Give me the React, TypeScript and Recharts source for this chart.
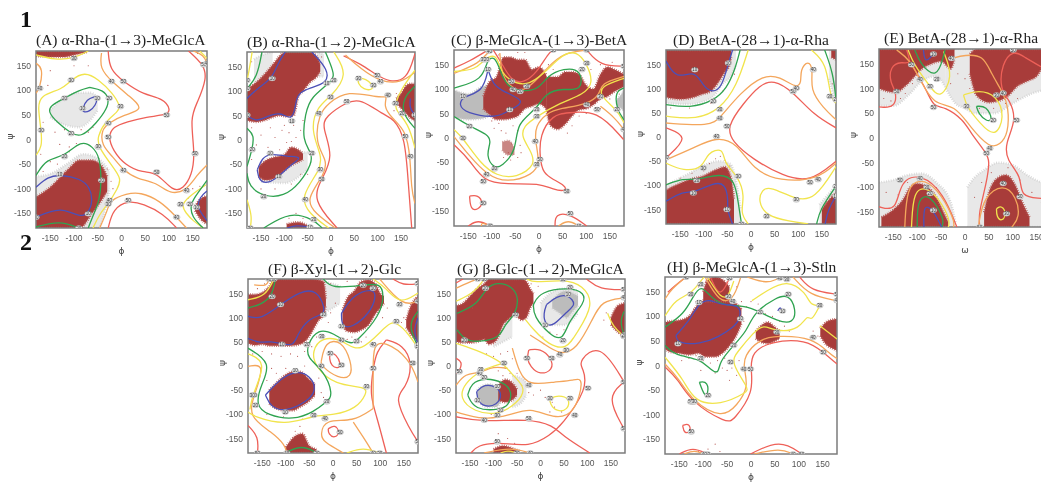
import React from "react";
import { ComposedChart, Area, Scatter, XAxis, YAxis, ReferenceArea } from "recharts";

type Pt = [number, number];
type Contour = [number, Pt[]];
type Band = [number, number, number][];

const LEVEL_COLORS: Record<number, string> = { 10: "#4b50b8", 20: "#2fa350", 30: "#f1e44c", 40: "#f4a65c", 50: "#ee6058" };
const axisTicks = [-150, -100, -50, 0, 50, 100, 150];

// ---------- Panel A
const contoursA: Contour[] = [
  [50, [[-28,180],[-25,142],[4,118],[46,91],[88,84],[104,60],[95,50],[53,46],[11,36],[-18,26],[-28,5],[-18,-22],[7,-52],[46,-68],[74,-66],[109,-107],[130,-100],[148,-73],[155,-29],[144,45],[160,75],[180,125],[173,152],[141,180]]],
  [50, [[-28,-180],[-18,-141],[14,-124],[46,-131],[88,-151],[116,-180]]],
  [40, [[-42,176],[-46,145],[-21,118],[18,87],[49,61],[4,50],[-28,33],[-42,19],[-42,-12],[-18,-35],[4,-63],[32,-80],[74,-87],[102,-112],[137,-104],[158,-73],[180,-52]]],
  [40, [[-46,-180],[-28,-141],[-25,-124],[11,-110],[39,-107],[81,-124],[116,-158],[137,-180]]],
  [40, [[-180,155],[-165,145],[-172,104],[-180,94]]],
  [40, [[151,180],[173,172],[180,155]]],
  [30, [[-180,-32],[-167,-15],[-169,19],[-176,64],[-172,90],[-124,102],[-106,121],[-78,138],[-49,123],[-18,94],[-2,67],[-7,57],[-35,36],[-51,5],[-49,-15],[-18,-56],[0,-80],[-8,-100],[-28,-131],[-46,-151],[-60,-180]]],
  [30, [[-180,172],[-140,162],[-100,165],[-70,180]]],
  [30, [[178,-92],[150,-110],[124,-132],[136,-150],[150,-165],[172,-180]]],
  [30, [[165,180],[180,165]]],
  [20, [[-67,106],[-39,101],[-26,84],[-30,63],[-53,33],[-85,4],[-106,12],[-137,36],[-155,57],[-148,70],[-120,84],[-88,101],[-67,106]]],
  [20, [[-180,-73],[-158,-39],[-120,-35],[-85,-1],[-60,-15],[-46,-35],[-42,-83],[-46,-124],[-62,-160],[-70,-180]]],
  [20, [[-180,-178],[-130,-165],[-90,-180]]],
  [20, [[180,-83],[162,-107],[144,-131],[148,-158],[172,-180]]],
  [10, [[-56,87],[-73,82],[-82,63],[-81,55],[-67,57],[-54,70],[-51,84],[-56,87]]],
  [10, [[-180,-97],[-155,-76],[-130,-71],[-85,-80],[-67,-97],[-60,-124],[-70,-151],[-88,-158],[-120,-141],[-151,-146],[-180,-158]]],
  [10, [[180,-105],[165,-117],[158,-138],[180,-165]]],
];
const redsA: Band[] = [
  [[-180,-180,-117],[-150,-180,-97],[-115,-180,-63],[-88,-180,-42],[-63,-152,-42],[-45,-128,-50],[-30,-105,-75]],
  [[-180,170,180],[-150,168,180],[-120,168,180],[-100,172,180],[-72,178,180]],
  [[155,-145,-135],[165,-160,-122],[180,-172,-115]],
];
const graysA: Band[] = [
  [[-180,-180,-75],[-150,-180,-70],[-115,-180,-50],[-80,-180,-30],[-50,-180,-38],[-25,-100,-65]],
  [[-150,45,60],[-120,30,85],[-90,25,95],[-65,40,95],[-50,60,85]],
];
const dotsA: Pt[] = [[-170,-30],[-150,-45],[-130,-10],[-110,-15],[-95,-8],[-165,35],[-140,15],[-120,20],[-85,20],[-70,15],[-60,25],[-155,110],[-150,140],[-100,150],[-70,150],[-30,-60],[-22,-85],[-18,-100],[-25,-120],[-110,-25],[140,-120],[150,-100],[165,-95],[160,175],[-165,-65],[-135,-50]];

// ---------- Panel B
const contoursB: Contour[] = [
  [50, [[27,172],[63,156],[99,132],[124,119],[163,122],[180,177]]],
  [50, [[13,-180],[-41,-122],[-20,-80],[6,-34],[-19,27],[-12,48],[34,78],[63,85],[113,51],[134,44],[159,7],[166,-95],[173,-180]]],
  [40, [[31,174],[63,146],[106,119],[149,116],[180,139]]],
  [40, [[9,-180],[-34,-150],[-55,-122],[-12,-68],[-9,-41],[-34,-7],[-26,54],[-5,75],[34,102],[106,85],[122,92],[112,70],[130,45],[160,20],[170,-34],[172,-100],[180,-130]]],
  [30, [[6,180],[38,133],[-1,88],[-30,68],[-44,20],[-19,-34],[-23,-61],[-66,-116],[-48,-150],[-5,-180]]],
  [30, [[59,126],[74,126],[91,112],[88,102],[70,103],[57,116],[59,126]]],
  [30, [[-169,180],[-176,139],[-180,122]]],
  [30, [[-180,-122],[-169,-156],[-173,-180]]],
  [30, [[180,143],[149,102],[138,75],[138,61],[166,34],[180,-17]]],
  [20, [[-148,180],[-158,129],[-180,105]]],
  [20, [[-12,180],[6,139],[6,122],[-44,88],[-55,54],[-62,0],[-41,-27],[-41,-48],[-66,-88],[-101,-116],[-144,-116],[-176,-95],[-180,-68]]],
  [20, [[-180,24],[-164,10],[-169,-20],[-180,-54]]],
  [20, [[-144,-180],[-87,-146],[-37,-163],[-19,-180]]],
  [20, [[180,110],[156,88],[152,54],[180,24]]],
  [10, [[-180,85],[-158,105],[-126,126],[-116,153],[-98,180]]],
  [10, [[-41,180],[-5,143],[-9,116],[-44,107],[-73,95],[-76,68],[-84,39],[-109,58],[-137,48],[-162,37],[-180,51]]],
  [10, [[-158,-61],[-148,-37],[-130,-27],[-94,-34],[-59,-34],[-87,-51],[-112,-75],[-137,-90],[-155,-82],[-158,-61]]],
  [10, [[-94,-180],[-75,-174],[-45,-178]]],
  [10, [[170,85],[168,65],[180,51]]],
];
const redsB: Band[] = [
  [[-180,40,105],[-160,37,118],[-140,41,137],[-120,48,160],[-110,50,172],[-95,48,180],[-80,50,180],[-70,88,180],[-60,100,180],[-45,118,180],[-30,130,170],[-23,140,155]],
  [[-155,-75,-55],[-140,-82,-42],[-120,-78,-35],[-100,-63,-30],[-85,-52,-15],[-70,-45,-20],[-60,-40,-28]],
  [[140,75,85],[150,65,95],[160,55,110],[170,45,115],[180,40,115]],
  [[-95,-180,-172],[-70,-180,-168],[-50,-180,-175]],
];
const graysB: Band[] = [
  [[-165,105,165],[-145,95,175],[-125,130,180]],
  [[-150,-85,-50],[-100,-88,-30],[-50,-60,-25]],
  [[-30,130,180],[-15,130,175]],
];
const dotsB: Pt[] = [[-170,25],[-150,10],[-130,25],[-120,5],[-105,20],[-95,-5],[-85,-3],[-75,5],[-65,20],[-60,40],[-160,-10],[-135,-15],[-110,-20],[-170,-40],[-150,-100],[-120,-100],[-85,-90],[-65,-70],[-50,-70],[-90,-160],[-75,-150],[-60,-160],[-170,160],[-20,170],[135,60],[140,95],[-100,30],[-90,15],[-80,30]];

// ---------- Panel C
const contoursC: Contour[] = [
  [50, [[-180,143],[-147,157],[-108,180]]],
  [50, [[-97,180],[-79,153],[-58,116],[-33,112],[-5,133],[20,174],[30,180]]],
  [50, [[101,180],[130,147],[180,147]]],
  [50, [[-180,-14],[-147,-44],[-118,-89],[-69,-95],[2,-92],[30,-106],[59,-109],[55,-97],[30,-85],[9,-72],[2,-44],[1,7],[30,48],[59,51],[123,58],[179,-3]]],
  [50, [[-147,-119],[-129,-116],[-118,-133],[-129,-147],[-145,-147],[-147,-119]]],
  [50, [[-150,-180],[-129,-167],[-104,-180]]],
  [50, [[34,-180],[34,-155],[66,-155],[101,-180]]],
  [40, [[-180,132],[-126,153],[-105,178]]],
  [40, [[-83,174],[-79,126],[-55,99],[-26,95],[20,147],[52,174],[101,180]]],
  [40, [[-180,3],[-147,-37],[-111,-75],[-69,-92],[-12,-75],[2,-51],[-8,-7],[-8,24],[16,51],[45,61],[101,68],[130,89],[130,112],[180,126]]],
  [40, [[130,65],[160,42],[180,17]]],
  [40, [[-122,-180],[-122,-172],[-104,-180]]],
  [40, [[41,-180],[62,-167],[84,-180]]],
  [30, [[-180,136],[-133,140],[-118,160],[-90,174],[-83,140],[-62,116],[-26,106],[9,130],[52,174],[80,177],[101,153],[116,112],[94,89],[45,72],[-5,44],[-33,24],[-37,3],[-19,-24],[-5,-55],[-48,-82],[-90,-78],[-125,-51],[-161,0],[-180,17]]],
  [30, [[180,122],[130,106],[130,85],[165,58],[180,31]]],
  [20, [[-180,102],[-118,119],[-111,160],[-94,168],[-83,140],[-69,106],[-40,95],[0,99],[16,126],[52,143],[91,140],[91,95],[52,102],[13,92],[-5,58],[-48,31],[-48,-27],[-79,-58],[-94,-63],[-113,-37],[-101,-7],[-108,7],[-147,24],[-180,44]]],
  [20, [[180,102],[161,95],[165,58],[180,37]]],
  [10, [[-108,140],[-118,95],[-161,85],[-170,68],[-156,51],[-87,40],[-62,58],[-25,75],[-76,95],[-97,109],[-108,140]]],
];
const redsC: Band[] = [
  [[-118,60,85],[-105,48,115],[-90,38,125],[-75,38,165],[-60,40,165],[-45,45,160],[-30,60,160],[-15,65,140],[0,70,145],[15,60,130]],
  [[15,60,125],[25,25,125],[40,18,125],[55,28,135],[70,45,135],[85,58,130],[100,60,108],[115,68,100],[130,80,130],[145,85,145],[160,95,140],[180,105,130]],
];
const palerRedsC: Band[] = [
  [[-78,-25,-8],[-65,-35,-5],[-52,-35,-20]],
];
const graysC: Band[] = [
  [[-180,42,98],[-150,38,90],[-120,40,105],[-105,45,108]],
  [[165,65,80],[175,60,90],[180,55,100]],
];
const dotsC: Pt[] = [[-85,30],[-80,15],[-70,10],[-55,25],[-45,15],[-75,-40],[-60,-45],[-45,-40],[-40,-15],[-95,20],[-100,35],[60,10],[70,25],[85,45],[100,50],[120,55],[130,60],[150,80],[170,90],[-85,170],[-45,175],[-30,175],[20,150],[30,140],[110,140],[130,150],[155,155],[-65,-30],[-58,-12],[-38,-30]];

// ---------- Panel D
const contoursD: Contour[] = [
  [50, [[-180,19],[-129,1],[-180,-43]]],
  [50, [[180,19],[132,46],[89,94],[47,119],[19,108],[-16,70],[-51,22],[-41,-9],[5,-47],[68,-81],[125,-94],[180,-50]]],
  [40, [[-180,29],[-87,22],[-66,39],[-23,91],[26,129],[61,125],[96,101],[107,112],[104,139],[121,160],[132,139],[125,98],[153,60],[180,36]]],
  [40, [[-180,-47],[-122,-23],[-73,1],[-30,-12],[5,-68],[61,-92],[142,-88],[180,-54]]],
  [30, [[-180,43],[-115,36],[-66,57],[-30,105],[-6,180]]],
  [30, [[-180,-54],[-143,-71],[-101,-64],[-94,-33],[-58,-21],[-58,-54],[-27,-81],[-13,-123],[-23,-157],[-6,-180]]],
  [30, [[121,-180],[82,-174],[33,-164],[15,-133],[23,-109],[40,-102],[96,-130],[135,-130],[180,-61]]],
  [30, [[128,180],[160,153],[167,84],[180,70]]],
  [20, [[-180,67],[-129,60],[-80,74],[-51,101],[-34,139],[-23,180]]],
  [20, [[-180,-99],[-143,-85],[-115,-90],[-66,-75],[-34,-88],[-27,-137],[-20,-180]]],
  [20, [[139,-180],[146,-150],[180,-102]]],
  [20, [[156,180],[174,132],[180,77]]],
  [10, [[-180,157],[-158,119],[-119,139],[-101,105],[-83,92],[-62,101],[-48,153],[-39,180]]],
  [10, [[-180,-133],[-143,-112],[-122,-116],[-80,-95],[-55,-95],[-48,-130],[-51,-150],[-39,-180]]],
  [10, [[157,-180],[163,-150],[180,-122]]],
];
const redsD: Band[] = [
  [[-180,82,180],[-150,78,180],[-130,80,180],[-105,88,180],[-85,95,180],[-70,112,180],[-55,135,180],[-45,150,180],[-42,165,180]],
  [[-180,-180,-110],[-160,-180,-100],[-130,-180,-88],[-100,-180,-80],[-75,-180,-68],[-55,-180,-62],[-42,-180,-85],[-36,-180,-130]],
  [[150,-180,-150],[165,-180,-130],[180,-180,-115]],
  [[170,165,180],[180,160,180]],
];
const graysD: Band[] = [
  [[-180,70,180],[-130,68,180],[-85,80,180],[-60,110,180],[-40,130,180],[-32,150,180]],
  [[-180,-180,-100],[-130,-180,-75],[-90,-180,-55],[-70,-180,-50],[-45,-180,-55],[-30,-180,-100],[-22,-180,-150]],
  [[145,-180,-140],[180,-180,-100]],
  [[165,120,180],[180,70,180]],
];
const dotsD: Pt[] = [[-75,-45],[-65,-40],[-55,-48],[-45,-60],[-88,-55],[-100,-70],[-125,-75],[-150,-85],[-170,60],[-130,60],[-85,70],[-60,95],[-35,130],[170,-120],[160,-135],[172,110]];

// ---------- Panel E
const contoursE: Contour[] = [
  [50, [[-180,63],[-147,60],[-143,94],[-157,111],[-157,145],[-133,155],[-112,148],[-122,178]]],
  [50, [[-112,148],[-80,97],[-66,62],[-42,64],[-3,36],[10,13],[45,-31],[52,-45],[45,-92],[28,-153],[31,-180]]],
  [50, [[170,138],[122,165],[101,178],[77,151],[73,97],[94,77],[108,36],[84,-11],[87,-45],[119,-78],[115,-119],[160,-122]]],
  [50, [[-180,-139],[-143,-149],[-136,-85],[-91,-72],[-45,-112],[-17,-180]]],
  [40, [[-143,178],[-115,158],[-94,118],[-66,67],[-21,67],[10,23],[52,-21],[73,-14],[91,9],[91,64],[80,91],[55,130],[38,168],[0,168],[-28,161]]],
  [40, [[-126,-180],[-122,-99],[-94,-82],[-59,-99],[-21,-166],[-24,-180]]],
  [40, [[28,-180],[38,-119],[80,-92],[108,-119],[115,-160],[98,-180]]],
  [30, [[-119,178],[-108,150],[-73,104],[-52,77],[-24,124],[-45,175]]],
  [30, [[-3,87],[28,97],[66,87],[84,43],[63,-1],[31,30],[3,64],[-3,87]]],
  [30, [[-112,-180],[-108,-105],[-80,-99],[-52,-126],[-31,-166],[-35,-180]]],
  [30, [[66,-143],[77,-136],[87,-153],[77,-170],[66,-159],[66,-143]]],
  [20, [[-105,178],[-94,150],[-59,119],[-45,165],[-42,178]]],
  [20, [[24,64],[45,65],[59,36],[45,33],[28,50],[24,64]]],
  [20, [[-100,-180],[-100,-122],[-73,-112],[-42,-166],[-49,-180]]],
  [10, [[-87,178],[-84,150],[-66,170]]],
  [10, [[-86,-180],[-87,-132],[-66,-146],[-49,-180]]],
];
const redsE: Band[] = [
  [[-180,100,180],[-165,95,180],[-145,92,180],[-125,105,180],[-105,125,180],[-90,140,180],[-70,150,180],[-50,155,180],[-30,140,180],[-22,160,180]],
  [[10,130,170],[25,85,180],[50,72,180],[70,75,180],[90,85,180],[110,105,180],[130,115,180],[150,125,180],[165,145,180],[180,150,180]],
  [[-175,-180,-160],[-150,-180,-145],[-130,-180,-125],[-115,-180,-100],[-100,-180,-92],[-80,-180,-98],[-60,-180,-120],[-45,-180,-150],[-35,-180,-170]],
  [[40,-180,-150],[50,-180,-110],[70,-180,-80],[85,-180,-75],[105,-180,-95],[120,-180,-130],[135,-180,-160]],
];
const graysE: Band[] = [
  [[-180,65,180],[-150,65,180],[-120,85,180],[-90,115,180],[-60,125,180],[-40,100,180]],
  [[-40,100,180],[-20,70,180],[0,60,180],[20,50,180],[60,50,180],[100,70,180],[140,90,180],[180,100,180]],
  [[5,-180,-100],[20,-180,-80],[40,-180,-65],[70,-180,-50],[100,-180,-55],[130,-180,-75],[160,-180,-90],[180,-180,-95]],
  [[-180,-180,-90],[-150,-180,-85],[-120,-180,-75],[-90,-180,-72],[-60,-180,-90],[-30,-180,-130],[-20,-180,-170]],
];
const dotsE: Pt[] = [[-170,80],[-155,75],[-135,80],[-125,90],[-110,110],[-95,125],[-30,110],[-15,130],[0,120],[10,100],[30,60],[60,60],[85,70],[110,80],[-165,-110],[-140,-115],[-120,-90],[-95,-80],[-60,-100],[-40,-130],[20,-120],[35,-90],[55,-70],[90,-60],[115,-85],[140,-110],[160,-130]];

// ---------- Panel F
const contoursF: Contour[] = [
  [50, [[-6,26],[6,26],[18,2],[11,-5],[-3,-1],[-8,16],[-6,26]]],
  [50, [[-10,-130],[4,-121],[15,-137],[4,-150],[-10,-141],[-10,-130]]],
  [50, [[113,54],[92,30],[85,-5],[78,-60],[92,-102],[113,-180]]],
  [50, [[113,54],[148,44],[169,6],[155,-46],[129,-64],[162,-130],[180,-157]]],
  [50, [[-180,-123],[-157,-147],[-160,-180]]],
  [50, [[127,180],[148,167],[180,170]]],
  [40, [[-25,9],[-17,51],[18,54],[39,9],[40,-24],[11,-26],[-25,0],[-25,9]]],
  [40, [[85,-88],[85,-5],[85,44],[109,52],[162,16],[180,-33]]],
  [40, [[85,-88],[43,-116],[-17,-109],[-27,-143],[-20,-157],[22,-180]]],
  [40, [[43,-116],[64,-147],[85,-180]]],
  [40, [[-180,-1],[-143,6],[-167,-60],[-180,-105],[-129,-137],[-101,-164],[-98,-180]]],
  [40, [[99,180],[148,123],[180,134]]],
  [40, [[-167,168],[-139,165],[-136,180]]],
  [30, [[180,37],[162,64],[134,92],[116,89],[57,23],[22,54],[-24,61],[-45,30],[-38,-1],[4,-40],[71,-43],[71,-57],[50,-88],[1,-102],[-41,-102],[-101,-123],[-167,-105],[-180,-95]]],
  [30, [[-180,25],[-139,9],[-171,-60],[-176,-90]]],
  [30, [[-180,137],[-143,144],[-125,180]]],
  [30, [[85,180],[113,161],[141,127],[180,151]]],
  [30, [[29,-180],[64,-168],[99,-180]]],
  [20, [[-180,120],[-153,127],[-129,144],[-122,180]]],
  [20, [[-20,180],[-3,160],[64,167],[99,172],[109,148],[99,103],[50,51],[36,44],[1,68],[-31,78],[-55,44],[-55,16],[-20,-8],[1,-60],[-13,-74],[-41,-95],[-83,-112],[-139,-102],[-164,-81],[-153,-40],[-129,6],[-180,37]]],
  [20, [[-101,-180],[-66,-163],[-34,-180]]],
  [20, [[180,113],[158,85],[180,40]]],
  [10, [[-180,103],[-153,96],[-111,127],[-69,155],[-34,158],[-17,120],[-20,106],[-52,99],[-76,64],[-83,42],[-108,45],[-132,52],[-153,47],[-180,57]]],
  [10, [[18,109],[43,148],[85,161],[92,144],[78,109],[39,78],[18,82],[18,109]]],
  [10, [[-143,-60],[-111,-26],[-80,-10],[-48,-19],[-34,-50],[-55,-74],[-101,-95],[-132,-85],[-143,-60]]],
  [10, [[180,100],[170,75],[180,44]]],
];
const redsF: Band[] = [
  [[-180,47,148],[-165,43,148],[-150,45,152],[-135,42,165],[-125,42,180],[-110,42,180],[-90,42,180],[-70,45,180],[-58,52,180],[-45,70,180],[-30,95,178],[-20,105,175],[-15,125,140]],
  [[20,85,115],[30,72,140],[45,70,155],[60,75,175],[75,85,178],[90,108,170],[100,120,150],[108,130,145]],
  [[-135,-78,-50],[-120,-88,-35],[-100,-92,-18],[-85,-92,-12],[-70,-85,-12],[-50,-72,-28],[-38,-60,-38]],
  [[-100,-180,-168],[-80,-180,-145],[-65,-180,-140],[-50,-180,-165],[-35,-180,-172]],
  [[155,80,95],[165,65,125],[175,55,140],[180,50,145]],
];
const graysF: Band[] = [
  [[-20,110,175],[0,120,170],[15,130,165]],
];
const dotsF: Pt[] = [[-170,25],[-150,30],[-130,25],[-110,20],[-90,25],[-75,20],[-60,30],[-45,40],[-35,60],[-10,90],[-5,110],[5,130],[10,165],[-5,170],[30,175],[45,165],[30,55],[40,60],[60,50],[70,60],[105,100],[115,120],[150,100],[145,90],[-140,-30],[-130,-5],[-120,-15],[-100,-5],[-60,0],[-30,-25],[-25,-55],[-20,-65],[-140,-100],[-105,-105],[-65,-110],[-80,-135],[-70,-125],[-160,160],[-145,170]];

// ---------- Panel G
const contoursG: Contour[] = [
  [50, [[-25,33],[-1,37],[24,16],[27,-8],[-1,-19],[-22,-1],[-29,16],[-25,33]]],
  [50, [[-180,-105],[-124,-116],[-25,-109],[27,-123],[45,-143],[105,-180]]],
  [50, [[-148,-180],[-134,-164],[-92,-157],[-22,-168],[20,-143],[45,-123],[101,-46],[91,-5],[80,9],[126,51],[178,-33]]],
  [50, [[178,-33],[140,-64],[178,-130]]],
  [50, [[98,180],[126,158],[178,158]]],
  [50, [[-180,16],[-166,9],[-173,-12],[-180,-15]]],
  [50, [[-180,172],[-165,180]]],
  [40, [[-22,64],[6,47],[41,23],[77,33],[112,99],[130,135],[178,141]]],
  [40, [[-60,37],[-45,-15],[-25,-40],[30,-33],[70,-30],[94,-22],[73,-102],[27,-109],[-22,-85],[-64,-102],[-120,-112],[-180,-95]]],
  [40, [[-180,-40],[-160,-15],[-130,-15],[-100,0],[-70,-5]]],
  [40, [[-180,161],[-155,172],[-134,180]]],
  [40, [[-120,-180],[-64,-168],[-22,-180]]],
  [30, [[-180,134],[-141,151],[-120,180]]],
  [30, [[-29,180],[-15,172],[48,179],[91,168],[115,127],[77,68],[55,33],[17,44],[-15,75],[-32,96]]],
  [30, [[-180,47],[-127,30],[-78,6],[-60,-19],[-29,-46],[-50,-78],[-92,-102],[-141,-95],[-173,-67],[-162,-36],[-127,-8],[-78,6]]],
  [30, [[20,-67],[38,-60],[63,-67],[59,-91],[34,-95],[20,-78],[20,-67]]],
  [30, [[143,109],[154,82],[178,61]]],
  [30, [[-85,-180],[-70,-174],[-50,-180]]],
  [20, [[-178,109],[-134,127],[-117,161],[-92,174],[-60,165],[-46,141],[-53,106],[-78,85],[-85,58],[-134,49],[-162,54],[-178,75]]],
  [20, [[-15,127],[-1,154],[63,163],[94,151],[94,130],[59,92],[48,52],[20,64],[-15,103],[-15,127]]],
  [20, [[-155,-60],[-148,-36],[-120,-24],[-78,-33],[-60,-53],[-67,-81],[-85,-91],[-141,-91],[-155,-60]]],
  [20, [[178,113],[169,92],[178,64]]],
  [10, [[13,127],[34,144],[59,148],[77,127],[56,113],[27,82],[10,85],[6,109],[13,127]]],
  [10, [[-136,-53],[-120,-37],[-92,-43],[-82,-60],[-92,-81],[-120,-85],[-134,-71],[-136,-53]]],
];
const redsG: Band[] = [
  [[-180,50,125],[-165,48,130],[-150,48,145],[-135,50,160],[-120,55,170],[-110,45,180],[-100,48,180],[-90,60,180],[-80,85,180],[-70,95,180],[-55,105,180],[-40,95,180],[-30,100,175],[-22,120,160],[-15,130,150]],
  [[-90,-70,-40],[-75,-75,-28],[-60,-70,-35],[-50,-60,-48]],
  [[150,85,100],[165,70,125],[180,60,130]],
  [[-100,-180,-172],[-80,-180,-165],[-60,-180,-170],[-45,-180,-176]],
];
const graysG: Band[] = [
  [[-135,-65,-50],[-125,-80,-42],[-110,-85,-38],[-95,-85,-42],[-85,-75,-48]],
  [[25,120,135],[40,110,150],[55,100,155],[70,115,150],[80,125,145]],
];
const lightGraysG: Band[] = [
  [[-100,40,80],[-80,50,110],[-60,60,120]],
  [[-60,-85,-20],[-40,-75,-25],[-30,-60,-35]],
  [[0,90,130],[20,85,150],[50,85,160],[80,110,155]],
];
const dotsG: Pt[] = [[-130,30],[-115,25],[-100,20],[-85,25],[-70,30],[-60,15],[-75,-5],[-90,-10],[-65,-15],[-80,-20],[-50,-15],[-40,-40],[-25,-55],[-15,-60],[0,-50],[10,-65],[25,-75],[30,-85],[45,-95],[20,-95],[-145,120],[-20,170],[-5,165],[5,60],[20,70],[35,65],[50,75],[135,95],[140,110],[-105,-100],[-90,-140],[-70,-150],[-55,-160]];

// ---------- Panel H
const contoursH: Contour[] = [
  [50, [[-180,-3],[-153,-27],[-126,-74],[-50,-118],[-36,-111],[6,-54],[-1,-7],[2,27],[40,49],[116,53],[151,27],[180,3]]],
  [50, [[-143,-122],[-129,-117],[-125,-135],[-140,-139],[-143,-122]]],
  [50, [[-174,149],[-160,162],[-136,180]]],
  [50, [[-84,178],[-65,135],[-45,178]]],
  [50, [[102,180],[126,152],[180,145]]],
  [50, [[-150,-180],[-122,-166],[-91,-180]]],
  [50, [[-1,-180],[61,-150],[106,-180]]],
  [40, [[-180,3],[-153,-24],[-122,-74],[-60,-108],[-29,-81],[-5,-44],[-15,-7],[-15,20],[19,54],[54,61],[130,57],[164,24],[180,14]]],
  [40, [[-180,135],[-167,155],[-136,180]]],
  [40, [[-95,178],[-67,130],[-38,130],[-22,178]]],
  [40, [[-8,180],[33,166],[60,178]]],
  [40, [[88,180],[123,142],[180,132]]],
  [40, [[-140,-180],[-119,-172],[-98,-180]]],
  [40, [[6,-180],[61,-168],[88,-180]]],
  [30, [[-180,17],[-140,-30],[-119,-74],[-64,-81],[-8,-54],[-5,-47],[-43,7],[-29,27],[6,68],[26,84],[54,68],[102,74],[119,105],[126,88],[144,122]]],
  [30, [[-180,101],[-157,135],[-126,145],[-105,172],[-98,180]]],
  [30, [[-90,178],[-62,135],[-47,140],[-36,172]]],
  [30, [[2,132],[33,152],[75,175],[116,148],[123,122],[150,122]]],
  [30, [[144,81],[180,54]]],
  [20, [[-180,41],[-160,20],[-105,14],[-84,-10],[-67,-17],[-67,7],[-36,41],[-8,71],[6,108],[54,139],[78,145],[95,115],[88,84],[54,91],[19,109],[-12,122],[-60,122],[-85,140],[-105,165],[-122,139],[-140,105],[-180,78]]],
  [20, [[-108,-34],[-90,-32],[-90,-61],[-98,-61],[-108,-34]]],
  [10, [[-157,61],[-126,95],[-109,128],[-84,135],[-64,122],[-22,125],[-22,95],[-36,78],[-70,57],[-105,44],[-153,44],[-157,61]]],
  [10, [[56,111],[61,120],[66,111]]],
];
const redsH: Band[] = [
  [[-180,34,88],[-170,28,90],[-150,25,92],[-130,22,100],[-110,25,125],[-95,18,135],[-75,18,140],[-60,25,135],[-45,40,130],[-30,62,125],[-20,85,115]],
  [[-100,130,150],[-90,130,175],[-75,130,180],[-60,130,175],[-45,130,160]],
  [[10,55,70],[20,48,80],[35,45,88],[50,50,78],[60,55,70]],
  [[145,60,75],[160,40,90],[170,35,93],[180,30,95]],
];
const graysH: Band[] = [];
const dotsH: Pt[] = [[-115,20],[-100,10],[-85,5],[-70,10],[-55,15],[-60,-5],[-75,-15],[-50,-10],[-40,-5],[-30,-20],[-45,-30],[-25,10],[-130,15],[-145,10],[-105,-10],[-15,90],[-10,120],[0,130],[15,125],[30,105],[45,100],[60,90],[-115,130],[-120,115],[-95,170],[-110,160],[-20,130],[-30,160],[-90,-170],[-75,-160],[-65,-175],[-110,-175],[70,80],[80,70],[130,70],[140,60]];

// ---------- Panels
const none: Band[] = [];
const panels = [
  { title: "(A) α-Rha-(1→3)-MeGlcA", tx: 36, ty: 31, x: 36, y: 51, w: 171, h: 177, xl: "ϕ", c: contoursA, r: redsA, g: graysA, d: dotsA, dg: none, pr: none },
  { title: "(B) α-Rha-(1→2)-MeGlcA", tx: 247, ty: 33, x: 247, y: 52, w: 168, h: 176, xl: "ϕ", c: contoursB, r: redsB, g: graysB, d: dotsB, dg: none, pr: none },
  { title: "(C) β-MeGlcA-(1→3)-BetA", tx: 451, ty: 31, x: 454, y: 50, w: 170, h: 176, xl: "ϕ", c: contoursC, r: redsC, g: none, d: dotsC, dg: graysC, pr: palerRedsC },
  { title: "(D) BetA-(28→1)-α-Rha", tx: 673, ty: 31, x: 666, y: 50, w: 170, h: 174, xl: "ϕ", c: contoursD, r: redsD, g: graysD, d: dotsD, dg: none, pr: none },
  { title: "(E) BetA-(28→1)-α-Rha", tx: 884, ty: 29, x: 879, y: 49, w: 172, h: 178, xl: "ω", c: contoursE, r: redsE, g: graysE, d: dotsE, dg: none, pr: none },
  { title: "(F) β-Xyl-(1→2)-Glc", tx: 268, ty: 260, x: 248, y: 279, w: 170, h: 174, xl: "ϕ", c: contoursF, r: redsF, g: graysF, d: dotsF, dg: none, pr: none },
  { title: "(G) β-Glc-(1→2)-MeGlcA", tx: 457, ty: 260, x: 456, y: 279, w: 169, h: 174, xl: "ϕ", c: contoursG, r: redsG, g: lightGraysG, d: dotsG, dg: graysG, pr: none },
  { title: "(H) β-MeGlcA-(1→3)-Stln", tx: 667, ty: 258, x: 665, y: 277, w: 172, h: 177, xl: "ϕ", c: contoursH, r: redsH, g: graysH, d: dotsH, dg: none, pr: none },
];

const NoPoint = () => <g />;
const SpeckDot = (p: any) => <circle cx={p.cx} cy={p.cy} r={0.55} fill="#b4504c" />;
const Tag = (p: any) => (
  <g>
    <ellipse cx={p.cx} cy={p.cy} rx={3.4} ry={2.5} fill="#e0e0e0" stroke="#9a9a9a" strokeWidth={0.4} />
    <text x={p.cx} y={p.cy + 1.6} textAnchor="middle" fontSize={4.5} fontFamily="Liberation Sans" fill="#333">{p.payload.level}</text>
  </g>
);

const toBand = (b: Band) => b.map(([x, lo, hi]) => ({ x, range: [lo, hi] }));
const toLine = (pts: Pt[]) => pts.map(([x, y]) => ({ x, y }));
const toTags = (level: number, pts: Pt[]) =>
  pts.filter((_, i) => i % 4 === 2).map(([x, y]) => ({ x, y, level }));

const ML = 44, MT = 4, MR = 6, MB = 28;
const tickStyle = { fontSize: 8.5, fontFamily: "Liberation Sans", fill: "#555" };

function Panel({ p }: { p: (typeof panels)[number] }) {
  return (
    <div style={{ position: "absolute", left: p.x - ML, top: p.y - MT }}>
      <ComposedChart width={p.w + ML + MR} height={p.h + MT + MB} margin={{ left: 0, top: MT, right: MR, bottom: 0 }}>
        <XAxis dataKey="x" type="number" domain={[-180, 180]} ticks={axisTicks} axisLine={false} tickSize={0} tickMargin={7} height={MB} tick={tickStyle} interval={0} allowDataOverflow
          label={{ value: p.xl, position: "insideBottom", offset: 2, fontSize: 9, fill: "#444", fontFamily: "DejaVu Sans" }} />
        <YAxis dataKey="y" type="number" domain={[-180, 180]} ticks={axisTicks} axisLine={false} tickSize={0} tickMargin={5} width={ML} tick={tickStyle} interval={0} allowDataOverflow
          label={{ value: "ψ", position: "insideLeft", offset: 18, fontSize: 9, fill: "#444", fontFamily: "DejaVu Sans", angle: -90 }} />
        {p.g.map((b, i) => (
          <Area key={"g" + i} data={toBand(b)} dataKey="range" type="monotone" fill="#e6e6e6" fillOpacity={0.9} stroke="#d4d4d4" strokeWidth={2.5} strokeDasharray="0.8 1.6" isAnimationActive={false} dot={false} activeDot={false} />
        ))}
        {p.dg.map((b, i) => (
          <Area key={"dg" + i} data={toBand(b)} dataKey="range" type="monotone" fill="#bcbcbc" fillOpacity={1} stroke="#cacaca" strokeWidth={2.5} strokeDasharray="0.8 1.6" isAnimationActive={false} dot={false} activeDot={false} />
        ))}
        {p.pr.map((b, i) => (
          <Area key={"pr" + i} data={toBand(b)} dataKey="range" type="monotone" fill="#c98683" fillOpacity={1} stroke="#d09a98" strokeWidth={2} strokeDasharray="0.8 1.6" isAnimationActive={false} dot={false} activeDot={false} />
        ))}
        {p.r.map((b, i) => (
          <Area key={"r" + i} data={toBand(b)} dataKey="range" type="monotone" fill="#a83c3a" fillOpacity={1} stroke="#b85a56" strokeWidth={2.5} strokeDasharray="0.8 1.4" isAnimationActive={false} dot={false} activeDot={false} />
        ))}
        <Scatter data={toLine(p.d)} shape={SpeckDot} isAnimationActive={false} />
        {p.c.map(([level, pts], i) => (
          <Scatter key={"c" + i} data={toLine(pts)} shape={NoPoint} line={{ stroke: LEVEL_COLORS[level], strokeWidth: 1.3 }} lineType="joint" lineJointType="basis" isAnimationActive={false} />
        ))}
        {p.c.map(([level, pts], i) => (
          <Scatter key={"t" + i} data={toTags(level, pts)} shape={Tag} isAnimationActive={false} />
        ))}
        <ReferenceArea x1={-180} x2={180} y1={-180} y2={180} fill="none" stroke="#7c7c7c" strokeWidth={1.5} />
      </ComposedChart>
    </div>
  );
}

const serif = "Liberation Serif";
export default function App() {
  return (
    <div style={{ position: "absolute", left: 0, top: 0, width: 1041, height: 482, overflow: "hidden", background: "#fff", filter: "blur(0.35px)" }}>
      <div style={{ position: "absolute", left: 20, top: 6, fontFamily: serif, fontWeight: 700, fontSize: 24, color: "#111" }}>1</div>
      <div style={{ position: "absolute", left: 20, top: 229, fontFamily: serif, fontWeight: 700, fontSize: 24, color: "#111" }}>2</div>
      {panels.map((p) => (
        <React.Fragment key={p.title}>
          <div style={{ position: "absolute", left: p.tx, top: p.ty, fontFamily: serif, fontSize: 15.5, lineHeight: "18px", color: "#222", whiteSpace: "nowrap" }}>{p.title}</div>
          <Panel p={p} />
        </React.Fragment>
      ))}
    </div>
  );
}
